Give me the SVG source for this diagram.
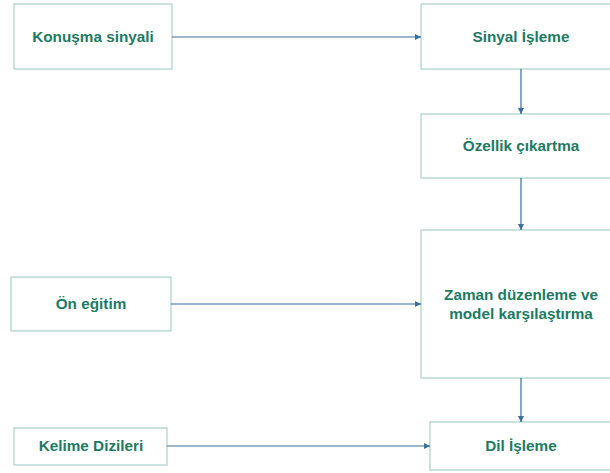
<svg xmlns="http://www.w3.org/2000/svg" width="610" height="473" viewBox="0 0 610 473">
  <style>
    .box { fill: #ffffff; stroke: #a9cfcb; stroke-width: 1.2; }
    .lbl { font-family: "Liberation Sans", Arial, sans-serif; font-weight: bold; font-size: 15.3px; fill: #1e7a62; text-anchor: middle; }
    .edge { stroke: #3b6e98; stroke-width: 1.2; fill: none; marker-end: url(#ah); }
  </style>
  <defs>
    <marker id="ah" viewBox="0 0 10 10" refX="10" refY="5" markerWidth="6" markerHeight="6" orient="auto" markerUnits="userSpaceOnUse">
      <path d="M0,0 L10,5 L0,10 z" fill="#3b6e98"/>
    </marker>
  </defs>
  <rect width="610" height="473" fill="#ffffff"/>

  <g id="konusma-sinyali">
    <rect class="box" x="14" y="4" width="158" height="65"/>
    <text class="lbl" x="93" y="42">Konuşma sinyali</text>
  </g>
  <g id="sinyal-isleme">
    <rect class="box" x="421" y="4" width="200" height="65"/>
    <text class="lbl" x="521" y="42">Sinyal İşleme</text>
  </g>
  <g id="ozellik-cikartma">
    <rect class="box" x="421" y="114" width="200" height="64"/>
    <text class="lbl" x="521" y="151">Özellik çıkartma</text>
  </g>
  <g id="zaman-duzenleme">
    <rect class="box" x="421" y="230" width="200" height="148"/>
    <text class="lbl" x="521" y="300">Zaman düzenleme ve</text>
    <text class="lbl" x="521" y="319">model karşılaştırma</text>
  </g>
  <g id="on-egitim">
    <rect class="box" x="11" y="277" width="160" height="54"/>
    <text class="lbl" x="91" y="309">Ön eğitim</text>
  </g>
  <g id="kelime-dizileri">
    <rect class="box" x="14" y="428" width="153" height="37"/>
    <text class="lbl" x="91" y="451">Kelime Dizileri</text>
  </g>
  <g id="dil-isleme">
    <rect class="box" x="430" y="422" width="190" height="48"/>
    <text class="lbl" x="521" y="451">Dil İşleme</text>
  </g>

  <g id="connectors">
    <line class="edge" x1="172" y1="37" x2="421" y2="37"/>
    <line class="edge" x1="521" y1="69" x2="521" y2="114"/>
    <line class="edge" x1="521" y1="178" x2="521" y2="230"/>
    <line class="edge" x1="171" y1="304" x2="421" y2="304"/>
    <line class="edge" x1="521" y1="378" x2="521" y2="422"/>
    <line class="edge" x1="167" y1="446" x2="430" y2="446"/>
  </g>
</svg>
